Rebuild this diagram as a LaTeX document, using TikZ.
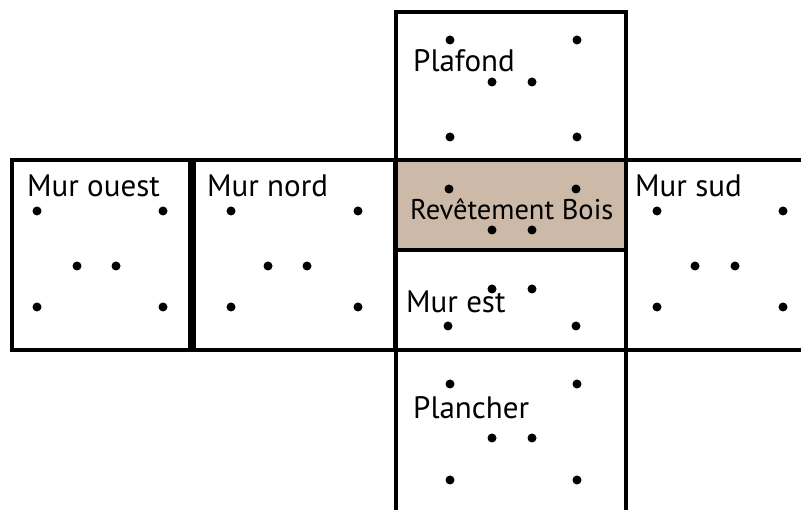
\documentclass[tikz,border=0pt]{standalone}
\usepackage{fontspec}
\setmainfont{PT Sans}
\usetikzlibrary{positioning}
\definecolor{ink}{HTML}{000000}
\definecolor{wood}{HTML}{CDB9A7}
\tikzset{
  face/.style={
    draw=ink,
    line width=3.5pt
  },
  woodface/.style={
    face,
    fill=wood
  },
  facelabel/.style={
    anchor=base west,
    inner sep=0pt,
    font=\fontsize{31}{36}\selectfont
  },
  pin/.style={
    fill=ink
  }
}
\begin{document}
\begin{tikzpicture}[x=1pt, y=-1pt]
  \useasboundingbox (0,0) rectangle (801,510);
  \clip (0,0) rectangle (801,510);
  % faces of the net
  \draw[face] (12,160) rectangle (190,350);
  \draw[face] (194,160) rectangle (395,350);
  \draw[face] (396,12) rectangle (626,160);
  \draw[woodface] (396,160) rectangle (626,250);
  \draw[face] (396,250) rectangle (626,350);
  \draw[face] (396,350) rectangle (626,516);
  \draw[face] (626,160) rectangle (814,350);
  % labels
  \node[facelabel] (ouest) at (27,197) {Mur ouest};
  \node[facelabel] (nord) at (207,197) {Mur nord};
  \node[facelabel] (plafond) at (413,72) {Plafond};
  \node[facelabel, font=\fontsize{28.5}{34}\selectfont] (bois) at (410,220) {Revêtement Bois};
  \node[facelabel] (est) at (406,313) {Mur est};
  \node[facelabel] (plancher) at (413,419) {Plancher};
  \node[facelabel] (sud) at (635,197) {Mur sud};
  % fixing points
  \foreach \px/\py in {37/211, 163/211, 77/266, 116/266, 37/307, 163/307,
      231/211, 358/211, 268/266, 307/266, 231/307, 358/307,
      657/211, 783/211, 695/266, 735/266, 657/307, 783/307,
      450/40, 577/40, 492/82, 532/82, 450/137, 577/137,
      449/189, 576/189, 492/230, 532/230,
      492/289, 532/289, 448/326, 576/326,
      450/384, 577/384, 492/438, 532/438, 450/480, 577/480}
    \fill[pin] (\px,\py) circle (4.5);
\end{tikzpicture}
\end{document}
